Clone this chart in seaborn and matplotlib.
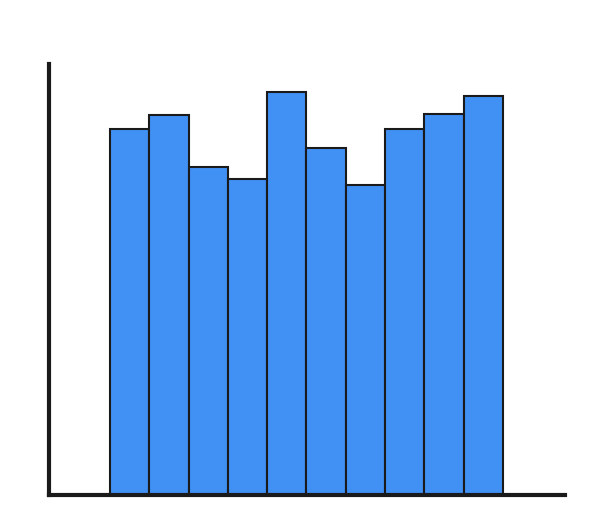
import matplotlib
matplotlib.use("Agg")
import matplotlib.pyplot as plt
import seaborn as sns

# bar heights (axis top = 100)
categories = ["1", "2", "3", "4", "5", "6", "7", "8", "9", "10"]
values = [84.8, 88.1, 76.0, 73.4, 93.5, 80.4, 72.0, 84.8, 88.3, 92.5]

sns.set_style("white")

fig = plt.figure(figsize=(5.96, 5.26), dpi=100)
ax = fig.add_axes([49 / 596, (526 - 494.5) / 526, (565 - 49) / 596, (494.5 - 64) / 526])

sns.barplot(x=categories, y=values, width=1, color="#4191F5", saturation=1,
            edgecolor="#1a1a1a", linewidth=1.5, ax=ax)

ax.set_xlim(-0.5 - 1.55, 9.5 + 1.58)
ax.set_ylim(0, 100)
ax.set_xticks([])
ax.set_yticks([])
ax.set_xlabel("")
ax.set_ylabel("")

for side in ["top", "right"]:
    ax.spines[side].set_visible(False)
for side in ["left", "bottom"]:
    ax.spines[side].set_linewidth(3.0)
    ax.spines[side].set_color("#1a1a1a")

fig.savefig("out.png", dpi=100)
